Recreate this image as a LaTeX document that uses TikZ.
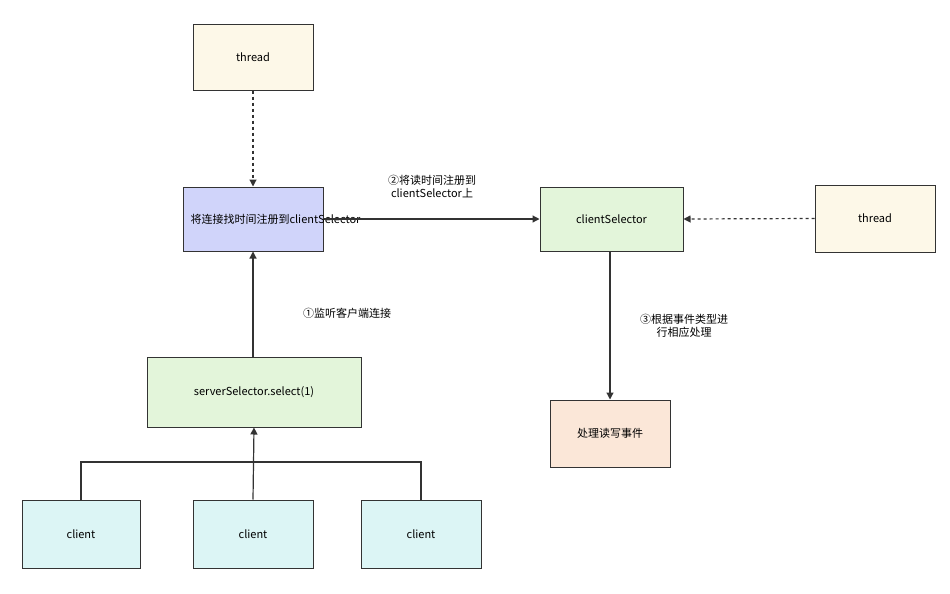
\documentclass[tikz,border=0pt]{standalone}
\usepackage{fontspec}
\setmainfont{Noto Sans CJK SC}
\usetikzlibrary{arrows.meta}
\definecolor{cth}{HTML}{FDF8E8}
\definecolor{cbl}{HTML}{D0D4FA}
\definecolor{cgr}{HTML}{E3F5DA}
\definecolor{ccy}{HTML}{DCF5F5}
\definecolor{cpe}{HTML}{FBE7D8}
\definecolor{ln}{HTML}{333333}
\begin{document}
\begin{tikzpicture}[x=1pt,y=-1pt,
 box/.style={draw=ln,line width=1pt,align=center,font=\fontsize{11}{13}\selectfont,inner sep=2pt},
 arr/.style={draw=ln,line width=1.2pt,-{Triangle[length=7pt,width=7pt]}},
 lbl/.style={font=\fontsize{11}{13}\selectfont,align=center}]
\useasboundingbox (0,0) rectangle (950,594);
\node[box,fill=cth,minimum width=120,minimum height=65] (t1) at (253,57.5) {thread};
\node[box,fill=cbl,minimum width=140,minimum height=64,text width=125] (reg) at (253,219) {将连接找时间注册到clientSelector};
\node[box,fill=cgr,minimum width=214,minimum height=70] (ss) at (254,392) {serverSelector.select(1)};
\node[box,fill=ccy,minimum width=118,minimum height=68] (c1) at (81,534) {client};
\node[box,fill=ccy,minimum width=120,minimum height=68] (c2) at (253,534) {client};
\node[box,fill=ccy,minimum width=120,minimum height=68] (c3) at (421,534) {client};
\node[box,fill=cgr,minimum width=143,minimum height=64] (cs) at (611.5,219) {clientSelector};
\node[box,fill=cth,minimum width=120,minimum height=67] (t2) at (875,218.5) {thread};
\node[box,fill=cpe,minimum width=120,minimum height=67,text width=100] (rw) at (610,433.5) {处理读写事件};
\coordinate (j) at (253,462);
\draw[draw=ln,line width=1.2pt] (c1.north) |- (j) -| (c3.north);
\draw[arr] (c2.north) -- (ss.south);
\draw[arr] (ss.north -| reg.south) -- (reg.south);
\draw[arr,dashed] (t1.south) -- (reg.north);
\draw[arr] (reg.east) -- (cs.west);
\draw[arr,dashed] (t2.west) -- (cs.east);
\draw[arr] (cs.south -| rw.north) -- (rw.north);
\node[lbl] (l1) at (347,313) {①监听客户端连接};
\node[lbl] (l2) at (432,187) {②将读时间注册到\\clientSelector上};
\node[lbl] (l3) at (684,326) {③根据事件类型进\\行相应处理};
\end{tikzpicture}
\end{document}
